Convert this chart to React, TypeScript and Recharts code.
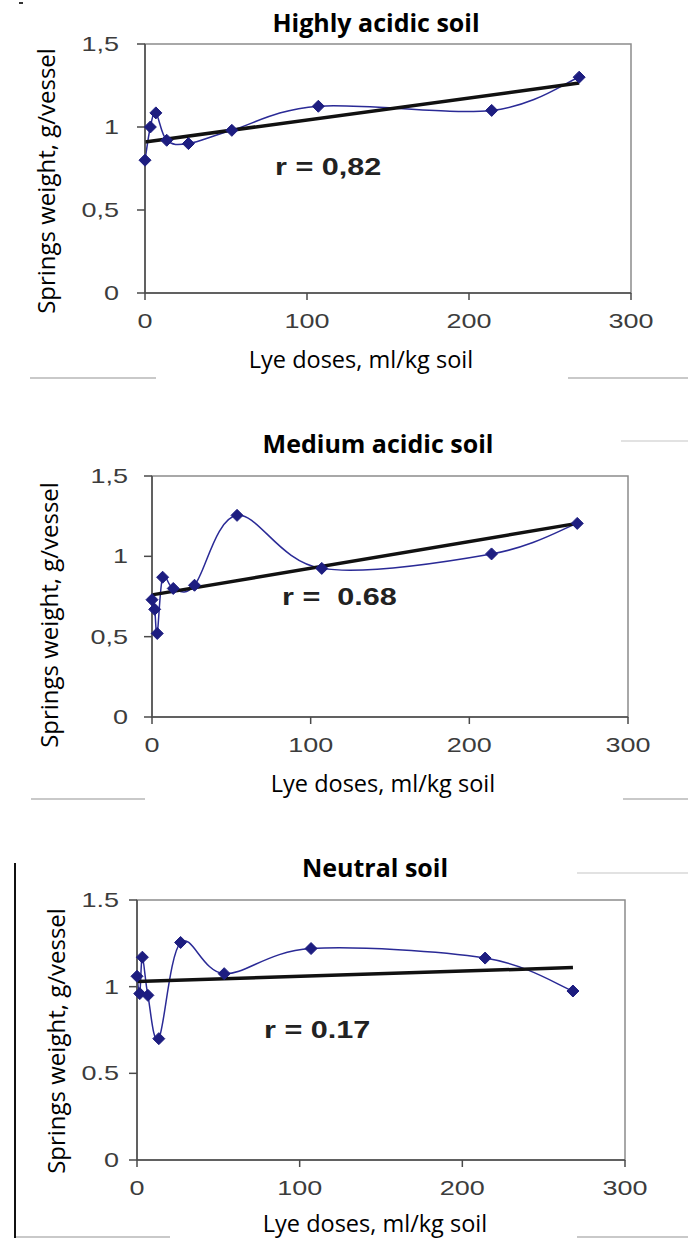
import React from "react";
import { ComposedChart, Line, ReferenceArea, XAxis, YAxis } from "recharts";

// lye doses, ml/kg soil
const highlyDoses = [0, 3.3, 6.7, 13.4, 26.8, 53.6, 107, 214, 268];
const doses = [0, 1.7, 3.3, 6.7, 13.4, 26.8, 53.6, 107, 214, 268];

// springs weight, g/vessel
const highlyWeights = [0.8, 1.0, 1.085, 0.92, 0.9, 0.98, 1.125, 1.1, 1.3];
const mediumWeights = [0.73, 0.67, 0.52, 0.87, 0.8, 0.82, 1.255, 0.925, 1.015, 1.205];
const neutralWeights = [1.06, 0.96, 1.17, 0.95, 0.7, 1.255, 1.075, 1.22, 1.165, 0.975];

// linear trend, read at both ends
const trendDoses = [0, 268];
const highlyTrend = [0.91, 1.265];
const mediumTrend = [0.76, 1.205];
const neutralTrend = [1.03, 1.11];

const xTicks = [0, 100, 200, 300];
const yTicks = [0, 0.5, 1, 1.5];

const titleFont = "'Open Sans', 'Noto Sans', sans-serif";
const tickFont = "'Liberation Sans', Arial, sans-serif";

type Pt = { dose: number; weight: number };

function toPoints(xs: number[], ys: number[]): Pt[] {
  return xs.map((x, i) => ({ dose: x, weight: ys[i] }));
}

// smoothed line like the spreadsheet one (catmull-rom through the points)
function smoothCurve(context: any) {
  let pts: number[][] = [];
  return {
    areaStart() {},
    areaEnd() {},
    lineStart() {
      pts = [];
    },
    point(x: number, y: number) {
      pts.push([+x, +y]);
    },
    lineEnd() {
      if (!pts.length) return;
      context.moveTo(pts[0][0], pts[0][1]);
      for (let i = 0; i < pts.length - 1; i++) {
        const p0 = pts[Math.max(i - 1, 0)];
        const p1 = pts[i];
        const p2 = pts[i + 1];
        const p3 = pts[Math.min(i + 2, pts.length - 1)];
        context.bezierCurveTo(
          p1[0] + (p2[0] - p0[0]) / 6,
          p1[1] + (p2[1] - p0[1]) / 6,
          p2[0] - (p3[0] - p1[0]) / 6,
          p2[1] - (p3[1] - p1[1]) / 6,
          p2[0],
          p2[1]
        );
      }
    },
  };
}

function Diamond(props: any) {
  const { cx, cy, index } = props;
  if (cx == null || cy == null) return <g key={`dm-${index}`} />;
  const r = 6;
  return (
    <path
      key={`dm-${index}`}
      d={`M${cx},${cy - r}L${cx + r},${cy}L${cx},${cy + r}L${cx - r},${cy}Z`}
      fill="#1d1d80"
      stroke="#1d1d80"
      strokeWidth={1}
    />
  );
}

function makeXTick(dy: number) {
  return function XTick({ x = 0, y = 0, payload }: any) {
    return (
      <g transform={`translate(${x},${y})`}>
        <text
          x={0}
          y={0}
          dy={dy}
          textAnchor="middle"
          transform="scale(1.35,1)"
          fill="#3c3c3c"
          fontSize={20}
          fontFamily={tickFont}
        >
          {payload?.value}
        </text>
      </g>
    );
  };
}

function makeYTick(sep: string) {
  return function YTick({ x = 0, y = 0, payload }: any) {
    const label = String(payload?.value ?? "").replace(".", sep);
    return (
      <g transform={`translate(${x},${y})`}>
        <text
          x={0}
          y={0}
          dy={7}
          textAnchor="end"
          transform="scale(1.35,1)"
          fill="#3c3c3c"
          fontSize={20}
          fontFamily={tickFont}
        >
          {label}
        </text>
      </g>
    );
  };
}

type SoilChartProps = {
  title: string;
  points: Pt[];
  trend: Pt[];
  sep: string;
  plot: { left: number; right: number; top: number; bottom: number };
  yTickGap: number;
  titlePos: [number, number];
  xLabelPos: [number, number];
  yLabelPos: [number, number];
  rText: string;
  rPos: [number, number];
};

function SoilChart({
  title,
  points,
  trend,
  sep,
  plot,
  yTickGap,
  titlePos,
  xLabelPos,
  yLabelPos,
  rText,
  rPos,
}: SoilChartProps) {
  const padTop = 30;
  const xAxisH = 50;
  const plotH = plot.bottom - plot.top;
  const chartTop = plot.top - padTop;

  return (
    <>
      <div style={{ position: "absolute", left: 0, top: chartTop }}>
        <ComposedChart
          width={688}
          height={padTop + plotH + xAxisH}
          margin={{ top: padTop, right: 688 - plot.right, bottom: 0, left: 0 }}
        >
          <XAxis
            type="number"
            dataKey="dose"
            domain={[0, 300]}
            ticks={xTicks}
            height={xAxisH}
            tick={makeXTick(24)}
            tickSize={7}
            tickMargin={4}
            axisLine={{ stroke: "#4a4a4a", strokeWidth: 1.5 }}
            tickLine={{ stroke: "#4a4a4a", strokeWidth: 1.5 }}
          />
          <YAxis
            type="number"
            domain={[0, 1.5]}
            ticks={yTicks}
            width={plot.left}
            tick={makeYTick(sep)}
            tickSize={8}
            tickMargin={yTickGap}
            axisLine={{ stroke: "#4a4a4a", strokeWidth: 1.5 }}
            tickLine={{ stroke: "#4a4a4a", strokeWidth: 1.5 }}
          />
          <ReferenceArea
            x1={0}
            x2={300}
            y1={0}
            y2={1.5}
            fill="none"
            stroke="#8c8c8c"
            strokeWidth={1.5}
            ifOverflow="visible"
          />
          <Line
            data={points}
            dataKey="weight"
            type={smoothCurve as any}
            stroke="#2a2a96"
            strokeWidth={1.5}
            dot={(p: any) => <Diamond {...p} />}
            activeDot={false}
            isAnimationActive={false}
          />
          <Line
            data={trend}
            dataKey="weight"
            type="linear"
            stroke="#111111"
            strokeWidth={3.5}
            dot={false}
            activeDot={false}
            isAnimationActive={false}
          />
        </ComposedChart>
      </div>
      <div
        style={{
          position: "absolute",
          left: titlePos[0],
          top: titlePos[1],
          transform: "translate(-50%, -50%)",
          fontFamily: titleFont,
          fontWeight: 700,
          fontSize: 25,
          whiteSpace: "nowrap",
          color: "#000",
        }}
      >
        {title}
      </div>
      <div
        style={{
          position: "absolute",
          left: xLabelPos[0],
          top: xLabelPos[1],
          transform: "translate(-50%, -50%)",
          fontFamily: titleFont,
          fontSize: 23.5,
          whiteSpace: "nowrap",
          color: "#000",
        }}
      >
        Lye doses, ml/kg soil
      </div>
      <div
        style={{
          position: "absolute",
          left: yLabelPos[0],
          top: yLabelPos[1],
          transform: "translate(-50%, -50%) rotate(-90deg)",
          fontFamily: titleFont,
          fontSize: 24,
          whiteSpace: "nowrap",
          color: "#000",
        }}
      >
        Springs weight, g/vessel
      </div>
      <div
        style={{
          position: "absolute",
          left: rPos[0],
          top: rPos[1],
          transform: "translateY(-50%) scale(1.33, 1)",
          transformOrigin: "left center",
          fontFamily: tickFont,
          fontWeight: 700,
          fontSize: 23,
          whiteSpace: "pre",
          color: "#222",
        }}
      >
        {rText}
      </div>
    </>
  );
}

function Rule({ x1, x2, y, color = "#c9c9c9" }: { x1: number; x2: number; y: number; color?: string }) {
  return (
    <div
      style={{
        position: "absolute",
        left: x1,
        top: y,
        width: x2 - x1,
        height: 1.5,
        background: color,
      }}
    />
  );
}

export default function App() {
  return (
    <div
      style={{
        position: "absolute",
        left: 0,
        top: 0,
        width: 688,
        height: 1238,
        overflow: "hidden",
        background: "#ffffff",
      }}
    >
      <SoilChart
        title="Highly acidic soil"
        points={toPoints(highlyDoses, highlyWeights)}
        trend={toPoints(trendDoses, highlyTrend)}
        sep=","
        plot={{ left: 145, right: 631, top: 44, bottom: 293 }}
        yTickGap={18}
        titlePos={[376, 22]}
        xLabelPos={[361, 359]}
        yLabelPos={[45, 181]}
        rText="r = 0,82"
        rPos={[275, 167]}
      />
      <SoilChart
        title="Medium acidic soil"
        points={toPoints(doses, mediumWeights)}
        trend={toPoints(trendDoses, mediumTrend)}
        sep=","
        plot={{ left: 152, right: 628, top: 476, bottom: 717 }}
        yTickGap={16}
        titlePos={[378, 443]}
        xLabelPos={[383, 783]}
        yLabelPos={[48, 615]}
        rText="r =  0.68"
        rPos={[282, 597]}
      />
      <SoilChart
        title="Neutral soil"
        points={toPoints(doses, neutralWeights)}
        trend={toPoints(trendDoses, neutralTrend)}
        sep="."
        plot={{ left: 137, right: 625, top: 900, bottom: 1160 }}
        yTickGap={10}
        titlePos={[375, 867]}
        xLabelPos={[375, 1223]}
        yLabelPos={[55, 1041]}
        rText="r = 0.17"
        rPos={[264, 1030]}
      />
      <Rule x1={30} x2={156} y={377} />
      <Rule x1={568} x2={688} y={377} />
      <Rule x1={31} x2={145} y={798} />
      <Rule x1={623} x2={688} y={798} />
      <Rule x1={621} x2={688} y={440} color="#e2e2e2" />
      <Rule x1={577} x2={688} y={872} color="#e2e2e2" />
      <Rule x1={15} x2={170} y={1236} />
      <Rule x1={577} x2={688} y={1236} />
      <div style={{ position: "absolute", left: 14, top: 863, width: 2, height: 375, background: "#111" }} />
      <div style={{ position: "absolute", left: 19, top: 2, width: 4, height: 2, background: "#333" }} />
    </div>
  );
}
